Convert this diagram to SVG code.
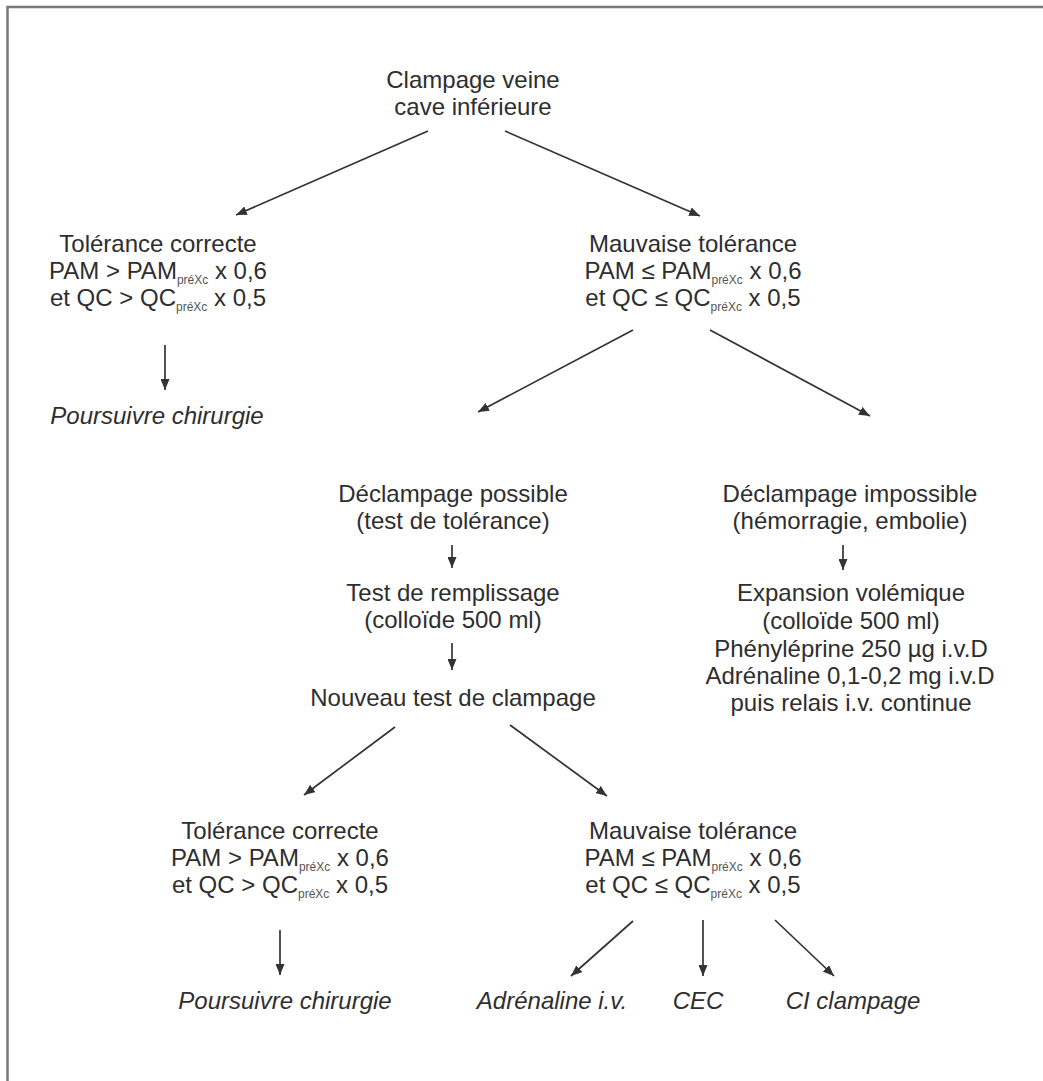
<svg xmlns="http://www.w3.org/2000/svg" width="1043" height="1081" viewBox="0 0 1043 1081">
<style>
.t{font-family:"Liberation Sans",Arial,sans-serif;font-size:24px;fill:#2e2e2e;text-anchor:middle}
.i{font-style:italic}
.s{font-size:12px;fill:#555}
#connectors line{stroke:#333;stroke-width:1.7;marker-end:url(#ah)}
</style>
<defs>
<marker id="ah" viewBox="0 0 11 9" refX="11" refY="4.5" markerWidth="11" markerHeight="9" markerUnits="userSpaceOnUse" orient="auto">
<path d="M0,0 L11,4.5 L0,9 z" fill="#333"/>
</marker>
</defs>
<rect width="1043" height="1081" fill="#fff"/>
<path d="M7.5,1081 V7 H1043" fill="none" stroke="#7a7a7a" stroke-width="2.5"/>

<g id="n_top" class="t"><text x="473" y="88">Clampage veine</text><text x="473" y="115">cave inférieure</text></g>

<g id="n_ok1" class="t">
<text x="158" y="252">Tolérance correcte</text>
<text x="158" y="279">PAM &gt; PAM<tspan class="s" dy="5">préXc</tspan><tspan dy="-5"> x 0,6</tspan></text>
<text x="158" y="306">et QC &gt; QC<tspan class="s" dy="5">préXc</tspan><tspan dy="-5"> x 0,5</tspan></text>
</g>
<g id="n_go1" class="t i"><text x="157" y="424">Poursuivre chirurgie</text></g>

<g id="n_bad1" class="t">
<text x="693" y="252">Mauvaise tolérance</text>
<text x="693" y="279">PAM ≤ PAM<tspan class="s" dy="5">préXc</tspan><tspan dy="-5"> x 0,6</tspan></text>
<text x="693" y="306">et QC ≤ QC<tspan class="s" dy="5">préXc</tspan><tspan dy="-5"> x 0,5</tspan></text>
</g>

<g id="n_decl_ok" class="t"><text x="453" y="502">Déclampage possible</text><text x="453" y="529">(test de tolérance)</text></g>
<g id="n_remp" class="t"><text x="453" y="601">Test de remplissage</text><text x="453" y="628">(colloïde 500 ml)</text></g>
<g id="n_new" class="t"><text x="453" y="706">Nouveau test de clampage</text></g>

<g id="n_decl_no" class="t"><text x="850" y="502">Déclampage impossible</text><text x="850" y="529">(hémorragie, embolie)</text></g>
<g id="n_exp" class="t">
<text x="851" y="601">Expansion volémique</text>
<text x="851" y="629">(colloïde 500 ml)</text>
<text x="851" y="657">Phényléprine 250 µg i.v.D</text>
<text x="850" y="684">Adrénaline 0,1-0,2 mg i.v.D</text>
<text x="851" y="711">puis relais i.v. continue</text>
</g>

<g id="n_ok2" class="t">
<text x="280" y="839">Tolérance correcte</text>
<text x="280" y="866">PAM &gt; PAM<tspan class="s" dy="5">préXc</tspan><tspan dy="-5"> x 0,6</tspan></text>
<text x="280" y="893">et QC &gt; QC<tspan class="s" dy="5">préXc</tspan><tspan dy="-5"> x 0,5</tspan></text>
</g>
<g id="n_go2" class="t i"><text x="285" y="1009">Poursuivre chirurgie</text></g>

<g id="n_bad2" class="t">
<text x="693" y="839">Mauvaise tolérance</text>
<text x="693" y="866">PAM ≤ PAM<tspan class="s" dy="5">préXc</tspan><tspan dy="-5"> x 0,6</tspan></text>
<text x="693" y="893">et QC ≤ QC<tspan class="s" dy="5">préXc</tspan><tspan dy="-5"> x 0,5</tspan></text>
</g>
<g id="n_adr" class="t i"><text x="552" y="1009">Adrénaline i.v.</text></g>
<g id="n_cec" class="t i"><text x="698" y="1009">CEC</text></g>
<g id="n_ci" class="t i"><text x="853" y="1009">CI clampage</text></g>

<g id="connectors">
<line x1="428" y1="131" x2="236" y2="215"/>
<line x1="505" y1="131" x2="700" y2="216"/>
<line x1="165" y1="345" x2="165" y2="390"/>
<line x1="633" y1="330" x2="478" y2="412"/>
<line x1="710" y1="330" x2="870" y2="416"/>
<line x1="452" y1="545" x2="452" y2="568"/>
<line x1="843" y1="545" x2="843" y2="570"/>
<line x1="452" y1="643" x2="452" y2="670"/>
<line x1="395" y1="727" x2="304" y2="795"/>
<line x1="510" y1="725" x2="607" y2="796"/>
<line x1="280" y1="930" x2="280" y2="975"/>
<line x1="633" y1="921" x2="571" y2="976"/>
<line x1="703" y1="920" x2="703" y2="976"/>
<line x1="775" y1="920" x2="834" y2="976"/>
</g>
</svg>
